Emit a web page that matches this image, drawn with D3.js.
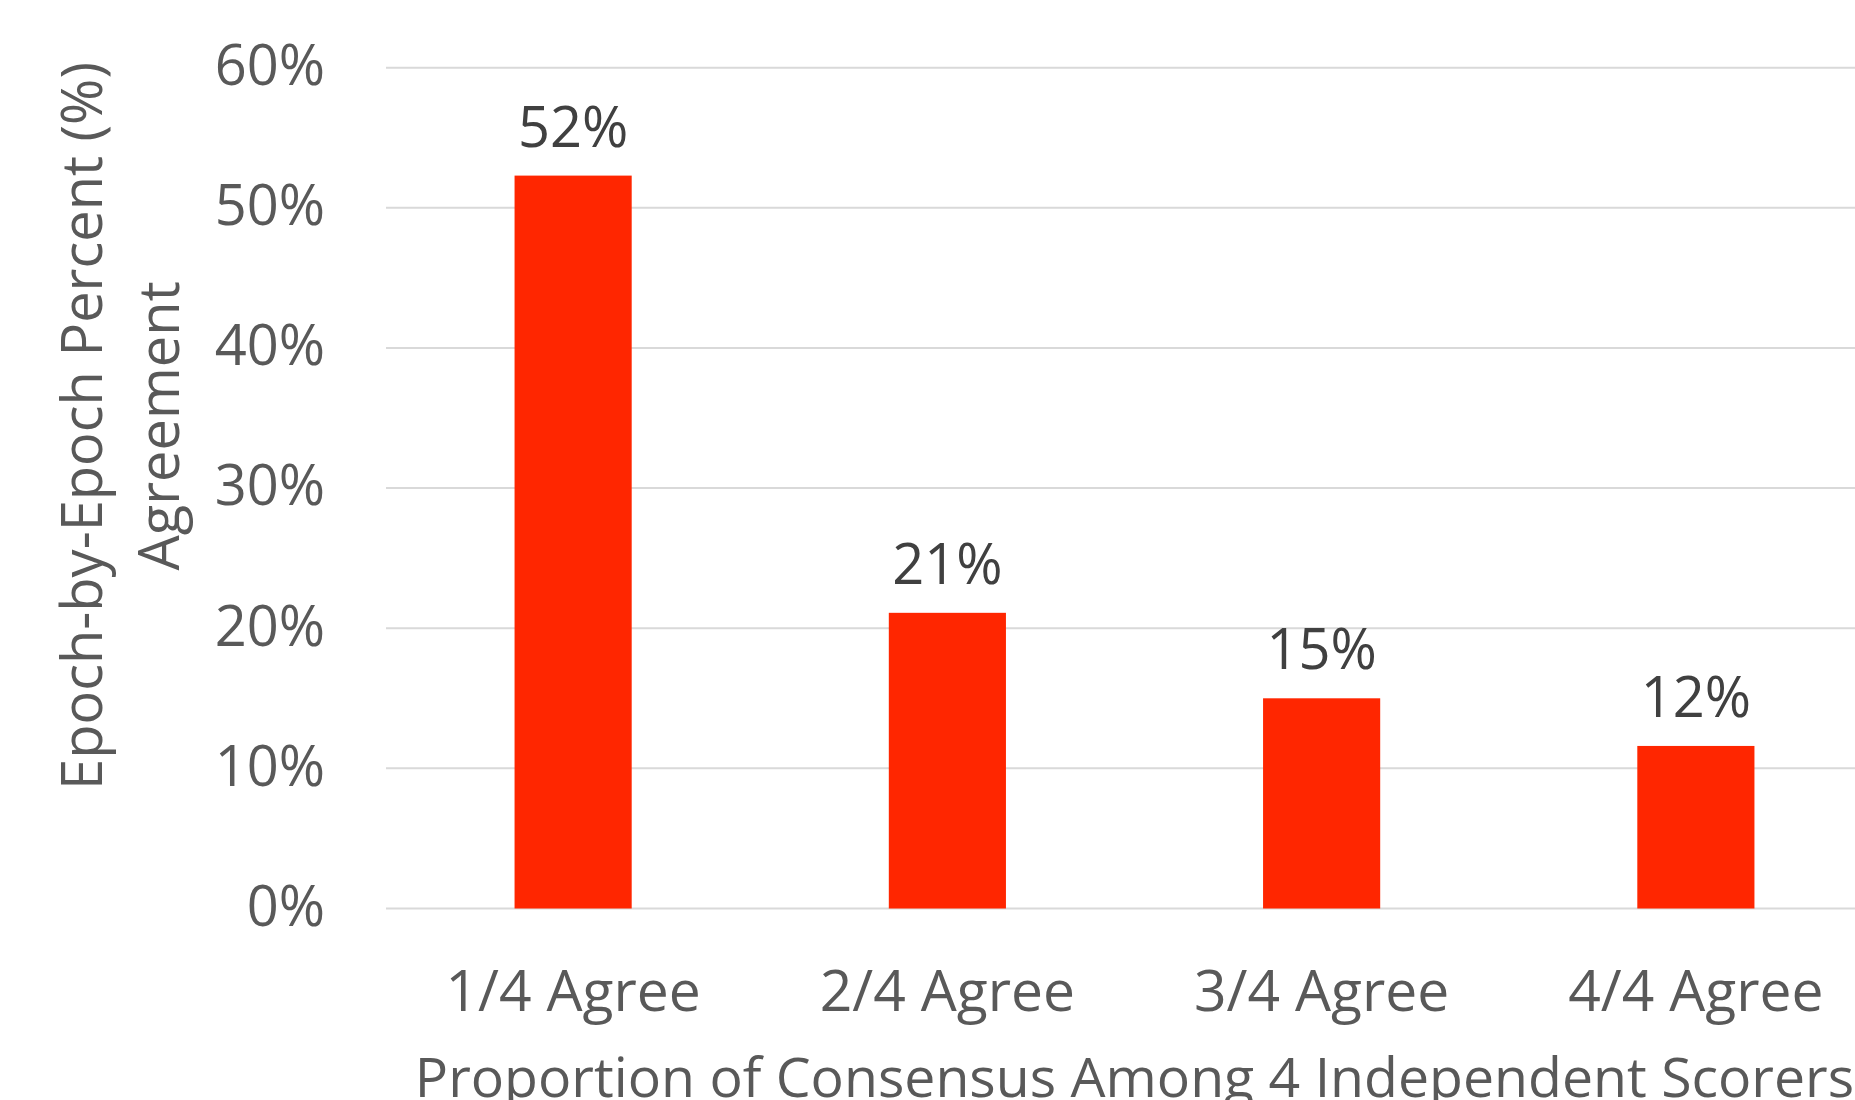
<!DOCTYPE html>
<html>
<head>
<meta charset="utf-8">
<script src="https://cdn.jsdelivr.net/npm/d3@7"></script>
<style>
  html, body { margin: 0; padding: 0; background: #fff; overflow: hidden; }
  text { font-family: "Open Sans", sans-serif; }
</style>
</head>
<body>
<div id="chart"></div>
<script>
// --- Data ---
const categories = ["1/4 Agree", "2/4 Agree", "3/4 Agree", "4/4 Agree"];
const values = [52.3, 21.1, 15.0, 11.6];
const valueLabels = ["52%", "21%", "15%", "12%"];
const yTicks = [0, 10, 20, 30, 40, 50, 60];

// --- Dimensions ---
const W = 1855, H = 1100;
const plot = { left: 386, right: 1883, top: 67.7, bottom: 908.5 };

const svg = d3.select("#chart")
  .append("svg")
  .attr("width", W)
  .attr("height", H);

// --- Scales ---
const x = d3.scaleBand()
  .domain(categories)
  .range([plot.left, plot.right])
  .paddingInner(0.687)
  .paddingOuter(0.3435);

const y = d3.scaleLinear()
  .domain([0, 60])
  .range([plot.bottom, plot.top]);

// --- Gridlines ---
svg.append("g")
  .selectAll("line")
  .data(yTicks)
  .join("line")
  .attr("x1", plot.left)
  .attr("x2", plot.right)
  .attr("y1", d => y(d))
  .attr("y2", d => y(d))
  .attr("stroke", "#d9d9d9")
  .attr("stroke-width", 2);

// --- Y axis labels ---
const yAxis = svg.append("g")
  .attr("transform", `translate(325,0)`)
  .call(d3.axisLeft(y).tickValues(yTicks).tickFormat(d => d + "%").tickSize(0).tickPadding(0));
yAxis.select(".domain").remove();
yAxis.selectAll("text")
  .attr("x", 0)
  .attr("dy", "0.3em")
  .attr("fill", "#595959")
  .style("font-family", "'Open Sans', sans-serif")
  .style("font-size", "56px");

// --- Bars ---
svg.append("g")
  .selectAll("rect")
  .data(values)
  .join("rect")
  .attr("x", (d, i) => x(categories[i]))
  .attr("width", x.bandwidth())
  .attr("y", d => y(d))
  .attr("height", d => y(0) - y(d))
  .attr("fill", "#ff2600");

// --- Data labels ---
svg.append("g")
  .selectAll("text")
  .data(values)
  .join("text")
  .attr("x", (d, i) => x(categories[i]) + x.bandwidth() / 2)
  .attr("y", d => y(d) - 29)
  .attr("text-anchor", "middle")
  .attr("fill", "#404040")
  .style("font-size", "56px")
  .text((d, i) => valueLabels[i]);

// --- X axis labels ---
const xAxis = svg.append("g")
  .attr("transform", `translate(0,${plot.bottom})`)
  .call(d3.axisBottom(x).tickSize(0).tickPadding(0));
xAxis.select(".domain").remove();
xAxis.selectAll("text")
  .attr("y", 102.5)
  .attr("dy", 0)
  .attr("fill", "#595959")
  .style("font-family", "'Open Sans', sans-serif")
  .style("font-size", "57px");

// --- Axis titles ---
svg.append("text")
  .attr("x", (plot.left + plot.right) / 2)
  .attr("y", 1097)
  .attr("text-anchor", "middle")
  .attr("fill", "#595959")
  .style("font-size", "55.4px")
  .text("Proportion of Consensus Among 4 Independent Scorers");

const yTitle = svg.append("text")
  .attr("transform", "translate(0,426) rotate(-90)")
  .attr("text-anchor", "middle")
  .attr("fill", "#595959")
  .style("font-size", "56px");
yTitle.append("tspan").attr("x", 0).attr("y", 101.7).text("Epoch-by-Epoch Percent (%)");
yTitle.append("tspan").attr("x", 0).attr("y", 179.3).text("Agreement");
</script>
</body>
</html>
